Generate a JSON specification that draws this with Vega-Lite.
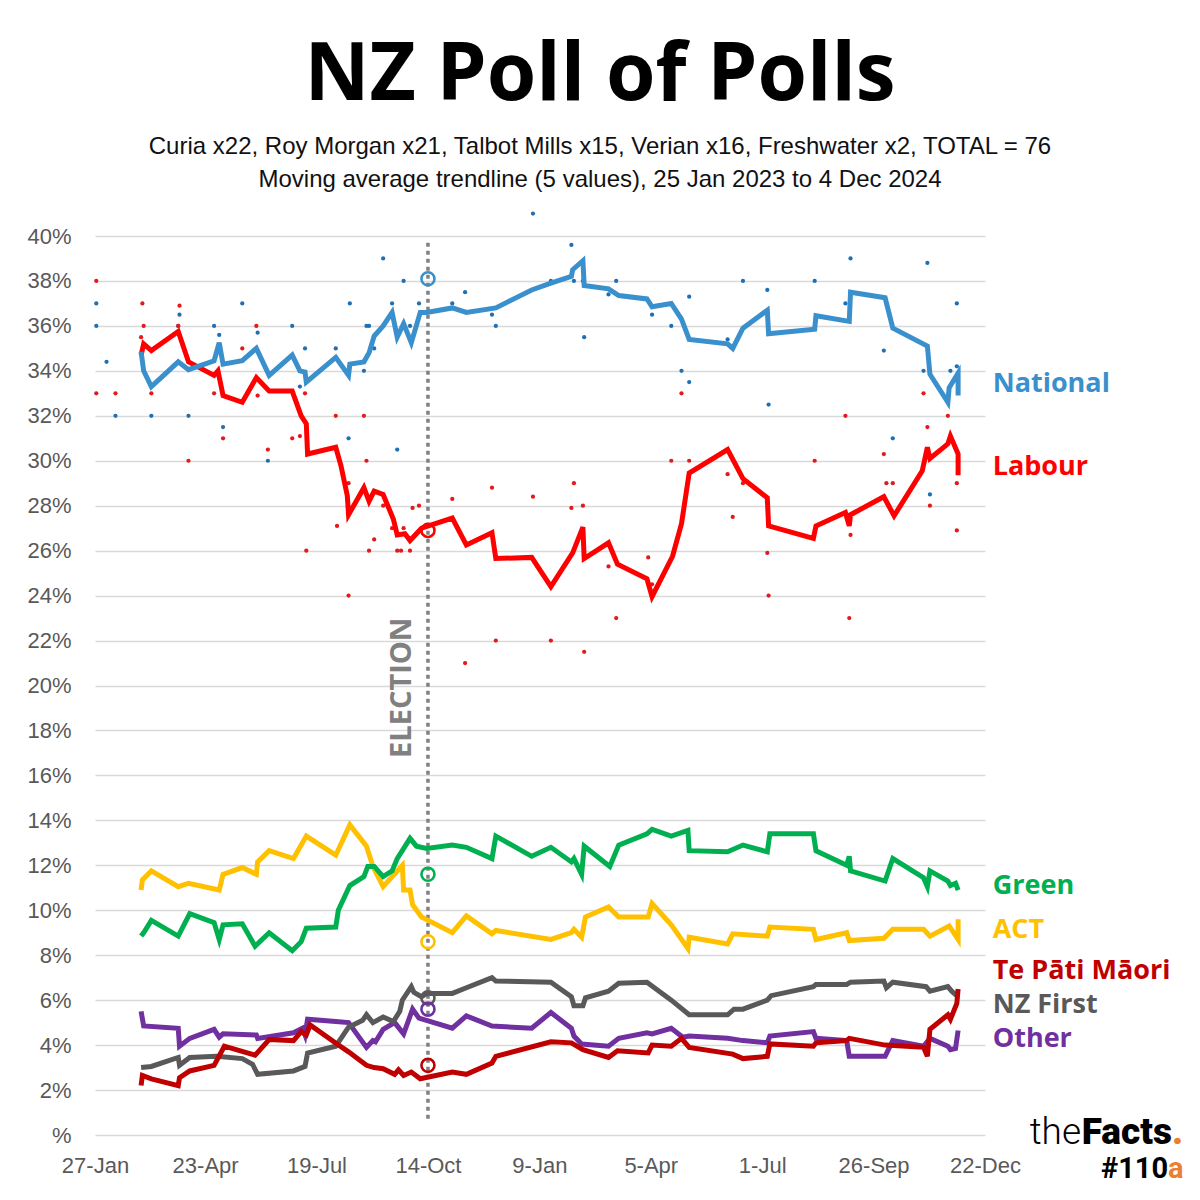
{
  "$schema": "https://vega.github.io/schema/vega-lite/v6.json",
  "width": 890,
  "height": 899,
  "autosize": {"type": "none"},
  "padding": {"left": 95, "top": 236, "right": 215, "bottom": 65},
  "background": "white",
  "config": {"view": {"stroke": null}},
  "title": {
    "text": "NZ Poll of Polls",
    "subtitle": ["Curia x22, Roy Morgan x21, Talbot Mills x15, Verian x16, Freshwater x2, TOTAL = 76", "Moving average trendline (5 values), 25 Jan 2023 to 4 Dec 2024"],
    "anchor": "middle", "frame": "group", "dx": 60, "offset": 18,
    "font": "Open Sans", "fontSize": 80, "fontWeight": "bold", "color": "#000000",
    "subtitleFont": "Liberation Sans", "subtitleFontSize": 24, "subtitleColor": "#111111",
    "subtitleLineHeight": 33, "subtitlePadding": 18
  },
  "datasets": {
    "lines": [
      {"p":"Other","d":"2023-03-04","v":5.5,"i":1},{"p":"Other","d":"2023-03-06","v":4.85,"i":2},{"p":"Other","d":"2023-04-02","v":4.75,"i":3},{"p":"Other","d":"2023-04-03","v":3.95,"i":4},{"p":"Other","d":"2023-04-11","v":4.3,"i":5},{"p":"Other","d":"2023-04-30","v":4.7,"i":6},{"p":"Other","d":"2023-05-04","v":4.35,"i":7},{"p":"Other","d":"2023-05-07","v":4.5,"i":8},{"p":"Other","d":"2023-06-02","v":4.45,"i":9},{"p":"Other","d":"2023-06-03","v":4.3,"i":10},{"p":"Other","d":"2023-07-01","v":4.55,"i":11},{"p":"Other","d":"2023-07-08","v":4.75,"i":12},{"p":"Other","d":"2023-07-10","v":4.45,"i":13},{"p":"Other","d":"2023-07-12","v":5.15,"i":14},{"p":"Other","d":"2023-08-03","v":5.05,"i":15},{"p":"Other","d":"2023-08-13","v":5.0,"i":16},{"p":"Other","d":"2023-08-27","v":3.9,"i":17},{"p":"Other","d":"2023-09-01","v":4.2,"i":18},{"p":"Other","d":"2023-09-03","v":4.15,"i":19},{"p":"Other","d":"2023-09-09","v":4.7,"i":20},{"p":"Other","d":"2023-09-18","v":5.0,"i":21},{"p":"Other","d":"2023-09-25","v":4.5,"i":22},{"p":"Other","d":"2023-10-02","v":5.6,"i":23},{"p":"Other","d":"2023-10-07","v":5.2,"i":24},{"p":"Other","d":"2023-11-02","v":4.75,"i":25},{"p":"Other","d":"2023-11-13","v":5.3,"i":26},{"p":"Other","d":"2023-12-03","v":4.85,"i":27},{"p":"Other","d":"2024-01-03","v":4.75,"i":28},{"p":"Other","d":"2024-01-18","v":5.45,"i":29},{"p":"Other","d":"2024-02-03","v":4.75,"i":30},{"p":"Other","d":"2024-02-05","v":4.4,"i":31},{"p":"Other","d":"2024-02-11","v":4.05,"i":32},{"p":"Other","d":"2024-03-03","v":3.95,"i":33},{"p":"Other","d":"2024-03-11","v":4.3,"i":34},{"p":"Other","d":"2024-04-02","v":4.55,"i":35},{"p":"Other","d":"2024-04-06","v":4.5,"i":36},{"p":"Other","d":"2024-04-21","v":4.75,"i":37},{"p":"Other","d":"2024-04-30","v":4.35,"i":38},{"p":"Other","d":"2024-05-05","v":4.4,"i":39},{"p":"Other","d":"2024-06-04","v":4.3,"i":40},{"p":"Other","d":"2024-06-16","v":4.2,"i":41},{"p":"Other","d":"2024-07-05","v":4.1,"i":42},{"p":"Other","d":"2024-07-07","v":4.4,"i":43},{"p":"Other","d":"2024-08-10","v":4.6,"i":44},{"p":"Other","d":"2024-08-12","v":4.3,"i":45},{"p":"Other","d":"2024-09-05","v":4.2,"i":46},{"p":"Other","d":"2024-09-07","v":3.5,"i":47},{"p":"Other","d":"2024-10-05","v":3.5,"i":48},{"p":"Other","d":"2024-10-11","v":4.2,"i":49},{"p":"Other","d":"2024-11-04","v":3.95,"i":50},{"p":"Other","d":"2024-11-09","v":4.3,"i":51},{"p":"Other","d":"2024-11-23","v":3.95,"i":52},{"p":"Other","d":"2024-11-25","v":3.8,"i":53},{"p":"Other","d":"2024-11-29","v":3.85,"i":54},{"p":"Other","d":"2024-12-01","v":4.65,"i":55},
      {"p":"NZ First","d":"2023-03-04","v":3.0,"i":1},{"p":"NZ First","d":"2023-03-12","v":3.05,"i":2},{"p":"NZ First","d":"2023-04-02","v":3.45,"i":3},{"p":"NZ First","d":"2023-04-03","v":3.1,"i":4},{"p":"NZ First","d":"2023-04-11","v":3.45,"i":5},{"p":"NZ First","d":"2023-05-02","v":3.5,"i":6},{"p":"NZ First","d":"2023-05-22","v":3.4,"i":7},{"p":"NZ First","d":"2023-05-30","v":3.15,"i":8},{"p":"NZ First","d":"2023-06-03","v":2.7,"i":9},{"p":"NZ First","d":"2023-07-01","v":2.85,"i":10},{"p":"NZ First","d":"2023-07-10","v":3.05,"i":11},{"p":"NZ First","d":"2023-07-12","v":3.65,"i":12},{"p":"NZ First","d":"2023-08-03","v":3.95,"i":13},{"p":"NZ First","d":"2023-08-13","v":4.8,"i":14},{"p":"NZ First","d":"2023-08-24","v":5.1,"i":15},{"p":"NZ First","d":"2023-08-27","v":5.35,"i":16},{"p":"NZ First","d":"2023-09-01","v":5.0,"i":17},{"p":"NZ First","d":"2023-09-09","v":5.25,"i":18},{"p":"NZ First","d":"2023-09-17","v":5.05,"i":19},{"p":"NZ First","d":"2023-09-22","v":5.5,"i":20},{"p":"NZ First","d":"2023-09-24","v":6.0,"i":21},{"p":"NZ First","d":"2023-10-01","v":6.6,"i":22},{"p":"NZ First","d":"2023-10-03","v":6.35,"i":23},{"p":"NZ First","d":"2023-10-09","v":6.15,"i":24},{"p":"NZ First","d":"2023-10-13","v":6.3,"i":25},{"p":"NZ First","d":"2023-11-02","v":6.3,"i":26},{"p":"NZ First","d":"2023-11-13","v":6.55,"i":27},{"p":"NZ First","d":"2023-12-03","v":7.0,"i":28},{"p":"NZ First","d":"2023-12-06","v":6.85,"i":29},{"p":"NZ First","d":"2024-01-18","v":6.8,"i":30},{"p":"NZ First","d":"2024-02-03","v":6.15,"i":31},{"p":"NZ First","d":"2024-02-05","v":5.75,"i":32},{"p":"NZ First","d":"2024-02-12","v":5.75,"i":33},{"p":"NZ First","d":"2024-02-14","v":6.1,"i":34},{"p":"NZ First","d":"2024-03-03","v":6.4,"i":35},{"p":"NZ First","d":"2024-03-11","v":6.75,"i":36},{"p":"NZ First","d":"2024-04-02","v":6.8,"i":37},{"p":"NZ First","d":"2024-04-21","v":6.0,"i":38},{"p":"NZ First","d":"2024-05-05","v":5.35,"i":39},{"p":"NZ First","d":"2024-06-04","v":5.35,"i":40},{"p":"NZ First","d":"2024-06-09","v":5.6,"i":41},{"p":"NZ First","d":"2024-06-16","v":5.6,"i":42},{"p":"NZ First","d":"2024-07-05","v":6.0,"i":43},{"p":"NZ First","d":"2024-07-08","v":6.2,"i":44},{"p":"NZ First","d":"2024-08-10","v":6.6,"i":45},{"p":"NZ First","d":"2024-08-12","v":6.7,"i":46},{"p":"NZ First","d":"2024-09-05","v":6.7,"i":47},{"p":"NZ First","d":"2024-09-08","v":6.8,"i":48},{"p":"NZ First","d":"2024-10-04","v":6.85,"i":49},{"p":"NZ First","d":"2024-10-06","v":6.55,"i":50},{"p":"NZ First","d":"2024-10-11","v":6.8,"i":51},{"p":"NZ First","d":"2024-11-06","v":6.6,"i":52},{"p":"NZ First","d":"2024-11-09","v":6.4,"i":53},{"p":"NZ First","d":"2024-11-23","v":6.6,"i":54},{"p":"NZ First","d":"2024-11-26","v":6.4,"i":55},{"p":"NZ First","d":"2024-12-01","v":6.15,"i":56},
      {"p":"ACT","d":"2023-03-04","v":10.9,"i":1},{"p":"ACT","d":"2023-03-05","v":11.35,"i":2},{"p":"ACT","d":"2023-03-12","v":11.75,"i":3},{"p":"ACT","d":"2023-04-02","v":11.05,"i":4},{"p":"ACT","d":"2023-04-10","v":11.2,"i":5},{"p":"ACT","d":"2023-05-04","v":10.9,"i":6},{"p":"ACT","d":"2023-05-07","v":11.6,"i":7},{"p":"ACT","d":"2023-05-22","v":11.9,"i":8},{"p":"ACT","d":"2023-06-02","v":11.6,"i":9},{"p":"ACT","d":"2023-06-03","v":12.15,"i":10},{"p":"ACT","d":"2023-06-12","v":12.65,"i":11},{"p":"ACT","d":"2023-07-01","v":12.3,"i":12},{"p":"ACT","d":"2023-07-11","v":13.3,"i":13},{"p":"ACT","d":"2023-08-03","v":12.45,"i":14},{"p":"ACT","d":"2023-08-14","v":13.8,"i":15},{"p":"ACT","d":"2023-08-27","v":12.85,"i":16},{"p":"ACT","d":"2023-09-01","v":11.95,"i":17},{"p":"ACT","d":"2023-09-09","v":11.05,"i":18},{"p":"ACT","d":"2023-09-24","v":12.0,"i":19},{"p":"ACT","d":"2023-09-25","v":10.9,"i":20},{"p":"ACT","d":"2023-09-30","v":10.9,"i":21},{"p":"ACT","d":"2023-10-02","v":10.25,"i":22},{"p":"ACT","d":"2023-10-09","v":9.7,"i":23},{"p":"ACT","d":"2023-11-02","v":9.0,"i":24},{"p":"ACT","d":"2023-11-13","v":9.75,"i":25},{"p":"ACT","d":"2023-12-03","v":8.95,"i":26},{"p":"ACT","d":"2023-12-06","v":9.1,"i":27},{"p":"ACT","d":"2024-01-18","v":8.7,"i":28},{"p":"ACT","d":"2024-02-03","v":9.0,"i":29},{"p":"ACT","d":"2024-02-05","v":9.15,"i":30},{"p":"ACT","d":"2024-02-11","v":8.8,"i":31},{"p":"ACT","d":"2024-02-14","v":9.7,"i":32},{"p":"ACT","d":"2024-03-03","v":10.15,"i":33},{"p":"ACT","d":"2024-03-11","v":9.7,"i":34},{"p":"ACT","d":"2024-04-03","v":9.7,"i":35},{"p":"ACT","d":"2024-04-06","v":10.3,"i":36},{"p":"ACT","d":"2024-04-21","v":9.35,"i":37},{"p":"ACT","d":"2024-05-04","v":8.3,"i":38},{"p":"ACT","d":"2024-05-05","v":8.8,"i":39},{"p":"ACT","d":"2024-06-04","v":8.5,"i":40},{"p":"ACT","d":"2024-06-08","v":8.95,"i":41},{"p":"ACT","d":"2024-07-05","v":8.85,"i":42},{"p":"ACT","d":"2024-07-07","v":9.25,"i":43},{"p":"ACT","d":"2024-08-10","v":9.15,"i":44},{"p":"ACT","d":"2024-08-12","v":8.7,"i":45},{"p":"ACT","d":"2024-09-05","v":9.0,"i":46},{"p":"ACT","d":"2024-09-07","v":8.65,"i":47},{"p":"ACT","d":"2024-10-04","v":8.75,"i":48},{"p":"ACT","d":"2024-10-11","v":9.15,"i":49},{"p":"ACT","d":"2024-11-04","v":9.15,"i":50},{"p":"ACT","d":"2024-11-09","v":8.85,"i":51},{"p":"ACT","d":"2024-11-24","v":9.3,"i":52},{"p":"ACT","d":"2024-12-01","v":8.7,"i":53},{"p":"ACT","d":"2024-12-01","v":9.6,"i":54},
      {"p":"Green","d":"2023-03-04","v":8.85,"i":1},{"p":"Green","d":"2023-03-06","v":9.0,"i":2},{"p":"Green","d":"2023-03-12","v":9.55,"i":3},{"p":"Green","d":"2023-04-02","v":8.85,"i":4},{"p":"Green","d":"2023-04-11","v":9.85,"i":5},{"p":"Green","d":"2023-04-30","v":9.45,"i":6},{"p":"Green","d":"2023-05-04","v":8.7,"i":7},{"p":"Green","d":"2023-05-07","v":9.35,"i":8},{"p":"Green","d":"2023-05-22","v":9.4,"i":9},{"p":"Green","d":"2023-06-01","v":8.4,"i":10},{"p":"Green","d":"2023-06-12","v":9.0,"i":11},{"p":"Green","d":"2023-06-30","v":8.2,"i":12},{"p":"Green","d":"2023-07-07","v":8.6,"i":13},{"p":"Green","d":"2023-07-11","v":9.2,"i":14},{"p":"Green","d":"2023-08-03","v":9.25,"i":15},{"p":"Green","d":"2023-08-05","v":10.0,"i":16},{"p":"Green","d":"2023-08-14","v":11.1,"i":17},{"p":"Green","d":"2023-08-25","v":11.5,"i":18},{"p":"Green","d":"2023-08-28","v":11.95,"i":19},{"p":"Green","d":"2023-09-02","v":11.95,"i":20},{"p":"Green","d":"2023-09-09","v":11.5,"i":21},{"p":"Green","d":"2023-09-16","v":11.75,"i":22},{"p":"Green","d":"2023-09-20","v":12.3,"i":23},{"p":"Green","d":"2023-09-30","v":13.2,"i":24},{"p":"Green","d":"2023-10-05","v":12.85,"i":25},{"p":"Green","d":"2023-10-13","v":12.75,"i":26},{"p":"Green","d":"2023-11-02","v":12.9,"i":27},{"p":"Green","d":"2023-11-13","v":12.8,"i":28},{"p":"Green","d":"2023-12-03","v":12.3,"i":29},{"p":"Green","d":"2023-12-06","v":13.3,"i":30},{"p":"Green","d":"2024-01-03","v":12.4,"i":31},{"p":"Green","d":"2024-01-18","v":12.8,"i":32},{"p":"Green","d":"2024-02-03","v":12.15,"i":33},{"p":"Green","d":"2024-02-05","v":12.3,"i":34},{"p":"Green","d":"2024-02-11","v":11.6,"i":35},{"p":"Green","d":"2024-02-13","v":12.85,"i":36},{"p":"Green","d":"2024-03-04","v":11.95,"i":37},{"p":"Green","d":"2024-03-11","v":12.9,"i":38},{"p":"Green","d":"2024-04-02","v":13.4,"i":39},{"p":"Green","d":"2024-04-06","v":13.6,"i":40},{"p":"Green","d":"2024-04-21","v":13.3,"i":41},{"p":"Green","d":"2024-05-04","v":13.55,"i":42},{"p":"Green","d":"2024-05-05","v":12.65,"i":43},{"p":"Green","d":"2024-06-04","v":12.6,"i":44},{"p":"Green","d":"2024-06-16","v":12.9,"i":45},{"p":"Green","d":"2024-07-05","v":12.6,"i":46},{"p":"Green","d":"2024-07-07","v":13.4,"i":47},{"p":"Green","d":"2024-08-10","v":13.4,"i":48},{"p":"Green","d":"2024-08-12","v":12.65,"i":49},{"p":"Green","d":"2024-09-05","v":12.0,"i":50},{"p":"Green","d":"2024-09-07","v":12.4,"i":51},{"p":"Green","d":"2024-09-08","v":11.75,"i":52},{"p":"Green","d":"2024-10-05","v":11.3,"i":53},{"p":"Green","d":"2024-10-11","v":12.3,"i":54},{"p":"Green","d":"2024-11-04","v":11.45,"i":55},{"p":"Green","d":"2024-11-07","v":11.05,"i":56},{"p":"Green","d":"2024-11-09","v":11.75,"i":57},{"p":"Green","d":"2024-11-23","v":11.3,"i":58},{"p":"Green","d":"2024-11-25","v":11.1,"i":59},{"p":"Green","d":"2024-11-29","v":11.2,"i":60},{"p":"Green","d":"2024-12-01","v":10.9,"i":61},
      {"p":"Te Pāti Māori","d":"2023-03-04","v":2.2,"i":1},{"p":"Te Pāti Māori","d":"2023-03-05","v":2.65,"i":2},{"p":"Te Pāti Māori","d":"2023-03-12","v":2.5,"i":3},{"p":"Te Pāti Māori","d":"2023-04-02","v":2.2,"i":4},{"p":"Te Pāti Māori","d":"2023-04-03","v":2.55,"i":5},{"p":"Te Pāti Māori","d":"2023-04-11","v":2.85,"i":6},{"p":"Te Pāti Māori","d":"2023-04-30","v":3.1,"i":7},{"p":"Te Pāti Māori","d":"2023-05-08","v":3.95,"i":8},{"p":"Te Pāti Māori","d":"2023-06-01","v":3.55,"i":9},{"p":"Te Pāti Māori","d":"2023-06-12","v":4.25,"i":10},{"p":"Te Pāti Māori","d":"2023-07-01","v":4.2,"i":11},{"p":"Te Pāti Māori","d":"2023-07-07","v":4.6,"i":12},{"p":"Te Pāti Māori","d":"2023-07-11","v":4.45,"i":13},{"p":"Te Pāti Māori","d":"2023-07-14","v":4.9,"i":14},{"p":"Te Pāti Māori","d":"2023-08-04","v":4.05,"i":15},{"p":"Te Pāti Māori","d":"2023-08-13","v":3.7,"i":16},{"p":"Te Pāti Māori","d":"2023-08-27","v":3.1,"i":17},{"p":"Te Pāti Māori","d":"2023-09-02","v":3.0,"i":18},{"p":"Te Pāti Māori","d":"2023-09-09","v":2.95,"i":19},{"p":"Te Pāti Māori","d":"2023-09-18","v":2.7,"i":20},{"p":"Te Pāti Māori","d":"2023-09-21","v":2.9,"i":21},{"p":"Te Pāti Māori","d":"2023-09-25","v":2.65,"i":22},{"p":"Te Pāti Māori","d":"2023-10-01","v":2.8,"i":23},{"p":"Te Pāti Māori","d":"2023-10-08","v":2.5,"i":24},{"p":"Te Pāti Māori","d":"2023-11-02","v":2.8,"i":25},{"p":"Te Pāti Māori","d":"2023-11-13","v":2.7,"i":26},{"p":"Te Pāti Māori","d":"2023-12-03","v":3.2,"i":27},{"p":"Te Pāti Māori","d":"2023-12-06","v":3.5,"i":28},{"p":"Te Pāti Māori","d":"2024-01-18","v":4.15,"i":29},{"p":"Te Pāti Māori","d":"2024-02-03","v":4.1,"i":30},{"p":"Te Pāti Māori","d":"2024-02-12","v":3.8,"i":31},{"p":"Te Pāti Māori","d":"2024-03-03","v":3.45,"i":32},{"p":"Te Pāti Māori","d":"2024-03-10","v":3.75,"i":33},{"p":"Te Pāti Māori","d":"2024-04-03","v":3.65,"i":34},{"p":"Te Pāti Māori","d":"2024-04-06","v":4.0,"i":35},{"p":"Te Pāti Māori","d":"2024-04-21","v":3.95,"i":36},{"p":"Te Pāti Māori","d":"2024-04-29","v":4.3,"i":37},{"p":"Te Pāti Māori","d":"2024-05-05","v":3.9,"i":38},{"p":"Te Pāti Māori","d":"2024-06-08","v":3.6,"i":39},{"p":"Te Pāti Māori","d":"2024-06-16","v":3.4,"i":40},{"p":"Te Pāti Māori","d":"2024-07-05","v":3.5,"i":41},{"p":"Te Pāti Māori","d":"2024-07-07","v":4.05,"i":42},{"p":"Te Pāti Māori","d":"2024-08-10","v":3.95,"i":43},{"p":"Te Pāti Māori","d":"2024-08-12","v":4.1,"i":44},{"p":"Te Pāti Māori","d":"2024-09-05","v":4.2,"i":45},{"p":"Te Pāti Māori","d":"2024-09-07","v":4.3,"i":46},{"p":"Te Pāti Māori","d":"2024-10-05","v":4.0,"i":47},{"p":"Te Pāti Māori","d":"2024-11-04","v":3.9,"i":48},{"p":"Te Pāti Māori","d":"2024-11-07","v":3.5,"i":49},{"p":"Te Pāti Māori","d":"2024-11-09","v":4.7,"i":50},{"p":"Te Pāti Māori","d":"2024-11-23","v":5.35,"i":51},{"p":"Te Pāti Māori","d":"2024-11-25","v":5.15,"i":52},{"p":"Te Pāti Māori","d":"2024-11-30","v":5.85,"i":53},{"p":"Te Pāti Māori","d":"2024-12-01","v":6.5,"i":54},
      {"p":"Labour","d":"2023-03-04","v":34.7,"i":1},{"p":"Labour","d":"2023-03-06","v":35.2,"i":2},{"p":"Labour","d":"2023-03-12","v":34.9,"i":3},{"p":"Labour","d":"2023-04-02","v":35.75,"i":4},{"p":"Labour","d":"2023-04-10","v":34.4,"i":5},{"p":"Labour","d":"2023-04-30","v":33.8,"i":6},{"p":"Labour","d":"2023-05-03","v":34.0,"i":7},{"p":"Labour","d":"2023-05-07","v":32.9,"i":8},{"p":"Labour","d":"2023-05-22","v":32.6,"i":9},{"p":"Labour","d":"2023-06-02","v":33.7,"i":10},{"p":"Labour","d":"2023-06-12","v":33.1,"i":11},{"p":"Labour","d":"2023-06-30","v":33.1,"i":12},{"p":"Labour","d":"2023-07-07","v":32.0,"i":13},{"p":"Labour","d":"2023-07-11","v":31.65,"i":14},{"p":"Labour","d":"2023-07-12","v":30.3,"i":15},{"p":"Labour","d":"2023-08-03","v":30.6,"i":16},{"p":"Labour","d":"2023-08-07","v":29.8,"i":17},{"p":"Labour","d":"2023-08-12","v":28.45,"i":18},{"p":"Labour","d":"2023-08-13","v":27.6,"i":19},{"p":"Labour","d":"2023-08-25","v":28.8,"i":20},{"p":"Labour","d":"2023-08-29","v":28.2,"i":21},{"p":"Labour","d":"2023-09-02","v":28.65,"i":22},{"p":"Labour","d":"2023-09-09","v":28.5,"i":23},{"p":"Labour","d":"2023-09-17","v":27.4,"i":24},{"p":"Labour","d":"2023-09-20","v":26.7,"i":25},{"p":"Labour","d":"2023-09-26","v":26.75,"i":26},{"p":"Labour","d":"2023-09-30","v":26.45,"i":27},{"p":"Labour","d":"2023-10-09","v":27.0,"i":28},{"p":"Labour","d":"2023-11-02","v":27.45,"i":29},{"p":"Labour","d":"2023-11-13","v":26.25,"i":30},{"p":"Labour","d":"2023-12-03","v":26.8,"i":31},{"p":"Labour","d":"2023-12-06","v":25.65,"i":32},{"p":"Labour","d":"2024-01-03","v":25.7,"i":33},{"p":"Labour","d":"2024-01-18","v":24.4,"i":34},{"p":"Labour","d":"2024-02-04","v":25.9,"i":35},{"p":"Labour","d":"2024-02-12","v":27.05,"i":36},{"p":"Labour","d":"2024-02-13","v":25.65,"i":37},{"p":"Labour","d":"2024-03-03","v":26.35,"i":38},{"p":"Labour","d":"2024-03-10","v":25.4,"i":39},{"p":"Labour","d":"2024-04-02","v":24.75,"i":40},{"p":"Labour","d":"2024-04-06","v":23.95,"i":41},{"p":"Labour","d":"2024-04-22","v":25.75,"i":42},{"p":"Labour","d":"2024-04-29","v":27.2,"i":43},{"p":"Labour","d":"2024-05-03","v":28.7,"i":44},{"p":"Labour","d":"2024-05-05","v":29.45,"i":45},{"p":"Labour","d":"2024-06-04","v":30.5,"i":46},{"p":"Labour","d":"2024-06-16","v":29.2,"i":47},{"p":"Labour","d":"2024-07-05","v":28.35,"i":48},{"p":"Labour","d":"2024-07-06","v":27.1,"i":49},{"p":"Labour","d":"2024-08-10","v":26.55,"i":50},{"p":"Labour","d":"2024-08-12","v":27.1,"i":51},{"p":"Labour","d":"2024-09-04","v":27.7,"i":52},{"p":"Labour","d":"2024-09-07","v":27.1,"i":53},{"p":"Labour","d":"2024-09-08","v":27.6,"i":54},{"p":"Labour","d":"2024-10-04","v":28.4,"i":55},{"p":"Labour","d":"2024-10-12","v":27.55,"i":56},{"p":"Labour","d":"2024-11-03","v":29.55,"i":57},{"p":"Labour","d":"2024-11-07","v":30.6,"i":58},{"p":"Labour","d":"2024-11-09","v":30.1,"i":59},{"p":"Labour","d":"2024-11-23","v":30.75,"i":60},{"p":"Labour","d":"2024-11-25","v":31.1,"i":61},{"p":"Labour","d":"2024-12-01","v":30.3,"i":62},{"p":"Labour","d":"2024-12-01","v":29.35,"i":63},
      {"p":"National","d":"2023-03-04","v":34.85,"i":1},{"p":"National","d":"2023-03-06","v":34.0,"i":2},{"p":"National","d":"2023-03-12","v":33.3,"i":3},{"p":"National","d":"2023-04-02","v":34.4,"i":4},{"p":"National","d":"2023-04-10","v":34.05,"i":5},{"p":"National","d":"2023-04-30","v":34.45,"i":6},{"p":"National","d":"2023-05-04","v":35.25,"i":7},{"p":"National","d":"2023-05-07","v":34.3,"i":8},{"p":"National","d":"2023-05-22","v":34.45,"i":9},{"p":"National","d":"2023-06-02","v":35.0,"i":10},{"p":"National","d":"2023-06-12","v":33.8,"i":11},{"p":"National","d":"2023-06-30","v":34.7,"i":12},{"p":"National","d":"2023-07-06","v":34.0,"i":13},{"p":"National","d":"2023-07-10","v":33.95,"i":14},{"p":"National","d":"2023-07-11","v":33.5,"i":15},{"p":"National","d":"2023-08-03","v":34.6,"i":16},{"p":"National","d":"2023-08-13","v":33.8,"i":17},{"p":"National","d":"2023-08-14","v":34.3,"i":18},{"p":"National","d":"2023-08-25","v":34.4,"i":19},{"p":"National","d":"2023-08-29","v":34.8,"i":20},{"p":"National","d":"2023-09-02","v":35.55,"i":21},{"p":"National","d":"2023-09-09","v":36.0,"i":22},{"p":"National","d":"2023-09-16","v":36.6,"i":23},{"p":"National","d":"2023-09-20","v":35.5,"i":24},{"p":"National","d":"2023-09-25","v":36.1,"i":25},{"p":"National","d":"2023-10-01","v":35.25,"i":26},{"p":"National","d":"2023-10-08","v":36.6,"i":27},{"p":"National","d":"2023-10-13","v":36.6,"i":28},{"p":"National","d":"2023-11-02","v":36.8,"i":29},{"p":"National","d":"2023-11-13","v":36.6,"i":30},{"p":"National","d":"2023-12-06","v":36.8,"i":31},{"p":"National","d":"2024-01-03","v":37.6,"i":32},{"p":"National","d":"2024-01-18","v":37.9,"i":33},{"p":"National","d":"2024-02-03","v":38.2,"i":34},{"p":"National","d":"2024-02-04","v":38.5,"i":35},{"p":"National","d":"2024-02-12","v":38.9,"i":36},{"p":"National","d":"2024-02-13","v":37.8,"i":37},{"p":"National","d":"2024-03-03","v":37.65,"i":38},{"p":"National","d":"2024-03-11","v":37.35,"i":39},{"p":"National","d":"2024-04-02","v":37.2,"i":40},{"p":"National","d":"2024-04-06","v":36.85,"i":41},{"p":"National","d":"2024-04-21","v":37.0,"i":42},{"p":"National","d":"2024-04-29","v":36.3,"i":43},{"p":"National","d":"2024-05-05","v":35.4,"i":44},{"p":"National","d":"2024-06-04","v":35.2,"i":45},{"p":"National","d":"2024-06-08","v":35.0,"i":46},{"p":"National","d":"2024-06-16","v":35.9,"i":47},{"p":"National","d":"2024-07-05","v":36.7,"i":48},{"p":"National","d":"2024-07-06","v":35.65,"i":49},{"p":"National","d":"2024-08-11","v":35.85,"i":50},{"p":"National","d":"2024-08-12","v":36.45,"i":51},{"p":"National","d":"2024-09-07","v":36.2,"i":52},{"p":"National","d":"2024-09-08","v":37.5,"i":53},{"p":"National","d":"2024-10-05","v":37.25,"i":54},{"p":"National","d":"2024-10-11","v":35.9,"i":55},{"p":"National","d":"2024-11-07","v":35.1,"i":56},{"p":"National","d":"2024-11-09","v":33.85,"i":57},{"p":"National","d":"2024-11-23","v":32.6,"i":58},{"p":"National","d":"2024-11-24","v":33.25,"i":59},{"p":"National","d":"2024-12-01","v":33.9,"i":60},{"p":"National","d":"2024-12-01","v":32.9,"i":61}
    ],
    "dots": [
      {"p":"National","d":"2023-01-28","v":37.0},{"p":"National","d":"2023-01-28","v":36.0},{"p":"National","d":"2023-02-05","v":34.4},{"p":"National","d":"2023-02-12","v":32.0},{"p":"National","d":"2023-03-12","v":32.0},{"p":"National","d":"2023-04-02","v":36.0},{"p":"National","d":"2023-04-03","v":36.5},{"p":"National","d":"2023-04-10","v":32.0},{"p":"National","d":"2023-04-30","v":36.0},{"p":"National","d":"2023-05-04","v":35.6},{"p":"National","d":"2023-05-07","v":31.5},{"p":"National","d":"2023-05-22","v":37.0},{"p":"National","d":"2023-06-03","v":35.7},{"p":"National","d":"2023-06-11","v":30.0},{"p":"National","d":"2023-06-30","v":36.0},{"p":"National","d":"2023-07-06","v":33.3},{"p":"National","d":"2023-07-10","v":35.0},{"p":"National","d":"2023-08-03","v":35.0},{"p":"National","d":"2023-08-14","v":37.0},{"p":"National","d":"2023-08-13","v":31.0},{"p":"National","d":"2023-08-25","v":34.0},{"p":"National","d":"2023-08-27","v":36.0},{"p":"National","d":"2023-08-29","v":36.0},{"p":"National","d":"2023-09-02","v":35.0},{"p":"National","d":"2023-09-09","v":39.0},{"p":"National","d":"2023-09-16","v":37.0},{"p":"National","d":"2023-09-20","v":30.5},{"p":"National","d":"2023-09-25","v":38.0},{"p":"National","d":"2023-09-30","v":36.0},{"p":"National","d":"2023-10-07","v":37.0},{"p":"National","d":"2023-11-02","v":37.0},{"p":"National","d":"2023-11-12","v":37.5},{"p":"National","d":"2023-12-03","v":36.5},{"p":"National","d":"2023-12-06","v":36.0},{"p":"National","d":"2024-01-04","v":41.0},{"p":"National","d":"2024-01-18","v":38.0},{"p":"National","d":"2024-02-03","v":39.6},{"p":"National","d":"2024-02-05","v":38.0},{"p":"National","d":"2024-02-12","v":38.0},{"p":"National","d":"2024-02-13","v":35.5},{"p":"National","d":"2024-03-03","v":37.4},{"p":"National","d":"2024-03-09","v":38.0},{"p":"National","d":"2024-04-06","v":36.5},{"p":"National","d":"2024-04-21","v":36.0},{"p":"National","d":"2024-04-29","v":34.0},{"p":"National","d":"2024-05-05","v":33.5},{"p":"National","d":"2024-05-05","v":37.3},{"p":"National","d":"2024-06-04","v":35.4},{"p":"National","d":"2024-06-16","v":38.0},{"p":"National","d":"2024-07-05","v":37.6},{"p":"National","d":"2024-07-06","v":32.5},{"p":"National","d":"2024-08-11","v":38.0},{"p":"National","d":"2024-09-04","v":37.0},{"p":"National","d":"2024-09-08","v":39.0},{"p":"National","d":"2024-10-04","v":34.9},{"p":"National","d":"2024-10-11","v":31.0},{"p":"National","d":"2024-11-04","v":34.0},{"p":"National","d":"2024-11-07","v":38.8},{"p":"National","d":"2024-11-09","v":28.5},{"p":"National","d":"2024-11-25","v":34.0},{"p":"National","d":"2024-11-30","v":37.0},{"p":"National","d":"2024-11-30","v":34.2},
      {"p":"Labour","d":"2023-01-28","v":38.0},{"p":"Labour","d":"2023-01-28","v":33.0},{"p":"Labour","d":"2023-02-12","v":33.0},{"p":"Labour","d":"2023-03-04","v":35.5},{"p":"Labour","d":"2023-03-05","v":37.0},{"p":"Labour","d":"2023-03-06","v":36.0},{"p":"Labour","d":"2023-03-12","v":33.0},{"p":"Labour","d":"2023-04-03","v":36.9},{"p":"Labour","d":"2023-04-02","v":36.0},{"p":"Labour","d":"2023-04-10","v":30.0},{"p":"Labour","d":"2023-04-30","v":33.0},{"p":"Labour","d":"2023-05-07","v":31.0},{"p":"Labour","d":"2023-05-22","v":35.0},{"p":"Labour","d":"2023-06-02","v":36.0},{"p":"Labour","d":"2023-06-03","v":32.9},{"p":"Labour","d":"2023-06-11","v":30.5},{"p":"Labour","d":"2023-06-30","v":31.0},{"p":"Labour","d":"2023-07-06","v":31.1},{"p":"Labour","d":"2023-07-10","v":33.0},{"p":"Labour","d":"2023-07-11","v":26.0},{"p":"Labour","d":"2023-08-03","v":32.0},{"p":"Labour","d":"2023-08-04","v":27.1},{"p":"Labour","d":"2023-08-13","v":29.0},{"p":"Labour","d":"2023-08-13","v":24.0},{"p":"Labour","d":"2023-08-25","v":32.0},{"p":"Labour","d":"2023-08-27","v":30.0},{"p":"Labour","d":"2023-08-29","v":26.0},{"p":"Labour","d":"2023-09-02","v":26.5},{"p":"Labour","d":"2023-09-09","v":28.0},{"p":"Labour","d":"2023-09-16","v":27.0},{"p":"Labour","d":"2023-09-20","v":26.0},{"p":"Labour","d":"2023-09-23","v":26.0},{"p":"Labour","d":"2023-09-25","v":27.0},{"p":"Labour","d":"2023-09-30","v":26.0},{"p":"Labour","d":"2023-10-02","v":27.9},{"p":"Labour","d":"2023-10-07","v":28.0},{"p":"Labour","d":"2023-11-02","v":28.3},{"p":"Labour","d":"2023-11-12","v":21.0},{"p":"Labour","d":"2023-12-03","v":28.8},{"p":"Labour","d":"2023-12-06","v":22.0},{"p":"Labour","d":"2024-01-04","v":28.4},{"p":"Labour","d":"2024-01-18","v":22.0},{"p":"Labour","d":"2024-02-03","v":27.9},{"p":"Labour","d":"2024-02-05","v":29.0},{"p":"Labour","d":"2024-02-12","v":28.0},{"p":"Labour","d":"2024-02-13","v":21.5},{"p":"Labour","d":"2024-03-03","v":25.3},{"p":"Labour","d":"2024-03-09","v":23.0},{"p":"Labour","d":"2024-04-03","v":25.7},{"p":"Labour","d":"2024-04-06","v":24.5},{"p":"Labour","d":"2024-04-21","v":30.0},{"p":"Labour","d":"2024-04-29","v":33.0},{"p":"Labour","d":"2024-05-05","v":30.0},{"p":"Labour","d":"2024-06-04","v":29.4},{"p":"Labour","d":"2024-06-08","v":27.5},{"p":"Labour","d":"2024-06-16","v":29.0},{"p":"Labour","d":"2024-07-05","v":25.9},{"p":"Labour","d":"2024-07-06","v":24.0},{"p":"Labour","d":"2024-08-11","v":30.0},{"p":"Labour","d":"2024-09-04","v":32.0},{"p":"Labour","d":"2024-09-08","v":26.7},{"p":"Labour","d":"2024-09-07","v":23.0},{"p":"Labour","d":"2024-10-04","v":30.3},{"p":"Labour","d":"2024-10-06","v":29.0},{"p":"Labour","d":"2024-10-11","v":29.0},{"p":"Labour","d":"2024-11-04","v":33.0},{"p":"Labour","d":"2024-11-07","v":31.5},{"p":"Labour","d":"2024-11-09","v":28.0},{"p":"Labour","d":"2024-11-23","v":32.0},{"p":"Labour","d":"2024-11-30","v":29.0},{"p":"Labour","d":"2024-11-30","v":26.9}
    ],
    "election": [
      {"p":"National","d":"2023-10-14","v":38.1},{"p":"Labour","d":"2023-10-14","v":26.9},{"p":"Green","d":"2023-10-14","v":11.6},{"p":"ACT","d":"2023-10-14","v":8.6},{"p":"NZ First","d":"2023-10-14","v":6.1},{"p":"Other","d":"2023-10-14","v":5.6},{"p":"Te Pāti Māori","d":"2023-10-14","v":3.1}
    ],
    "labels": [
      {"p":"National","v":33.4},{"p":"Labour","v":29.7},{"p":"Green","v":11.1},{"p":"ACT","v":9.1},{"p":"Te Pāti Māori","v":7.3},{"p":"NZ First","v":5.8},{"p":"Other","v":4.25}
    ],
    "one": [{}]
  },
  "layer": [
    {
      "data": {"name": "dots"},
      "transform": [{"filter": "datum.p == 'National'"}],
      "mark": {"type": "circle", "size": 18, "opacity": 1, "color": "#1f6fb4"},
      "encoding": {
        "x": {"field": "d", "type": "temporal",
          "scale": {"type": "utc", "domain": [{"year": 2023, "month": 1, "date": 27, "utc": true}, {"year": 2024, "month": 12, "date": 22, "utc": true}]},
          "axis": {"title": null, "format": "%-d-%b", "domain": false, "ticks": false, "grid": false, "labelFlush": false, "labelOverlap": false,
            "labelFont": "Liberation Sans", "labelFontSize": 22, "labelColor": "#595959", "labelPadding": 20,
            "values": [
              {"year": 2023, "month": 1, "date": 27, "utc": true}, {"year": 2023, "month": 4, "date": 23, "utc": true},
              {"year": 2023, "month": 7, "date": 19, "utc": true}, {"year": 2023, "month": 10, "date": 14, "utc": true},
              {"year": 2024, "month": 1, "date": 9, "utc": true}, {"year": 2024, "month": 4, "date": 5, "utc": true},
              {"year": 2024, "month": 7, "date": 1, "utc": true}, {"year": 2024, "month": 9, "date": 26, "utc": true},
              {"year": 2024, "month": 12, "date": 22, "utc": true}]}},
        "y": {"field": "v", "type": "quantitative",
          "scale": {"domain": [0, 40], "nice": false, "zero": false},
          "axis": {"title": null, "values": [0,2,4,6,8,10,12,14,16,18,20,22,24,26,28,30,32,34,36,38,40],
            "labelExpr": "datum.value == 0 ? '%' : datum.value + '%'", "domain": false, "ticks": false,
            "grid": true, "gridColor": "#d9d9d9", "gridWidth": 1.3,
            "labelFont": "Liberation Sans", "labelFontSize": 22, "labelColor": "#595959", "labelPadding": 24}}
      }
    },
    {
      "data": {"name": "dots"},
      "transform": [{"filter": "datum.p == 'Labour'"}],
      "mark": {"type": "circle", "size": 18, "opacity": 1, "color": "#e3191c"},
      "encoding": {
        "x": {"field": "d", "type": "temporal"},
        "y": {"field": "v", "type": "quantitative"}
      }
    },
    {
      "data": {"name": "one"},
      "mark": {"type": "rule", "color": "#808080", "strokeWidth": 3.5, "strokeDash": [4, 4]},
      "encoding": {
        "x": {"datum": {"year": 2023, "month": 10, "date": 14, "utc": true}, "type": "temporal"},
        "y": {"datum": 39.7, "type": "quantitative"},
        "y2": {"datum": 0.6}
      }
    },
    {
      "data": {"name": "one"},
      "mark": {"type": "text", "text": "ELECTION", "angle": 270, "align": "center", "baseline": "middle",
        "font": "Open Sans", "fontSize": 29, "fontWeight": "bold", "color": "#808080"},
      "encoding": {
        "x": {"datum": {"year": 2023, "month": 9, "date": 24, "utc": true}, "type": "temporal"},
        "y": {"datum": 19.9, "type": "quantitative"}
      }
    },
    {
      "data": {"name": "lines"},
      "mark": {"type": "line", "strokeWidth": 5, "strokeJoin": "miter", "strokeCap": "butt"},
      "encoding": {
        "x": {"field": "d", "type": "temporal"},
        "y": {"field": "v", "type": "quantitative"},
        "order": {"field": "i", "type": "quantitative"},
        "color": {"field": "p", "type": "nominal", "legend": null,
          "scale": {"domain": ["National", "Labour", "Green", "ACT", "Te Pāti Māori", "NZ First", "Other"],
            "range": ["#3a8fcd", "#ff0000", "#00b050", "#ffc000", "#c00000", "#595959", "#7030a0"]}}
      }
    },
    {
      "data": {"name": "election"},
      "mark": {"type": "point", "filled": false, "size": 170, "strokeWidth": 2.6, "opacity": 1},
      "encoding": {
        "x": {"field": "d", "type": "temporal"},
        "y": {"field": "v", "type": "quantitative"},
        "color": {"field": "p", "type": "nominal", "legend": null}
      }
    },
    {
      "data": {"name": "labels"},
      "mark": {"type": "text", "align": "left", "baseline": "middle", "font": "Open Sans", "fontSize": 27, "fontWeight": "bold"},
      "encoding": {
        "x": {"datum": {"year": 2024, "month": 12, "date": 28, "utc": true}, "type": "temporal"},
        "y": {"field": "v", "type": "quantitative"},
        "text": {"field": "p"},
        "color": {"field": "p", "type": "nominal", "legend": null}
      }
    },
    {
      "data": {"name": "one"},
      "mark": {"type": "text", "text": "the", "align": "right", "baseline": "alphabetic", "font": "Roboto", "fontSize": 37, "fontWeight": 300, "color": "#000000"},
      "encoding": {
        "x": {"datum": {"year": 2025, "month": 3, "date": 7, "utc": true}, "type": "temporal"},
        "y": {"datum": -0.4, "type": "quantitative"}
      }
    },
    {
      "data": {"name": "one"},
      "mark": {"type": "text", "text": "Facts", "align": "right", "baseline": "alphabetic", "font": "Roboto", "fontSize": 37, "fontWeight": 900, "color": "#000000"},
      "encoding": {
        "x": {"datum": {"year": 2025, "month": 5, "date": 17, "utc": true}, "type": "temporal"},
        "y": {"datum": -0.4, "type": "quantitative"}
      }
    },
    {
      "data": {"name": "one"},
      "mark": {"type": "text", "text": ".", "align": "left", "baseline": "alphabetic", "font": "Roboto", "fontSize": 37, "fontWeight": 900, "color": "#ed7d31"},
      "encoding": {
        "x": {"datum": {"year": 2025, "month": 5, "date": 17, "utc": true}, "type": "temporal"},
        "y": {"datum": -0.4, "type": "quantitative"}
      }
    },
    {
      "data": {"name": "one"},
      "mark": {"type": "text", "text": "#110", "align": "right", "baseline": "alphabetic", "font": "Roboto", "fontSize": 29, "fontWeight": "bold", "color": "#000000"},
      "encoding": {
        "x": {"datum": {"year": 2025, "month": 5, "date": 14, "utc": true}, "type": "temporal"},
        "y": {"datum": -1.9, "type": "quantitative"}
      }
    },
    {
      "data": {"name": "one"},
      "mark": {"type": "text", "text": "a", "align": "left", "baseline": "alphabetic", "font": "Roboto", "fontSize": 29, "fontWeight": "bold", "color": "#ed7d31"},
      "encoding": {
        "x": {"datum": {"year": 2025, "month": 5, "date": 14, "utc": true}, "type": "temporal"},
        "y": {"datum": -1.9, "type": "quantitative"}
      }
    }
  ]
}
